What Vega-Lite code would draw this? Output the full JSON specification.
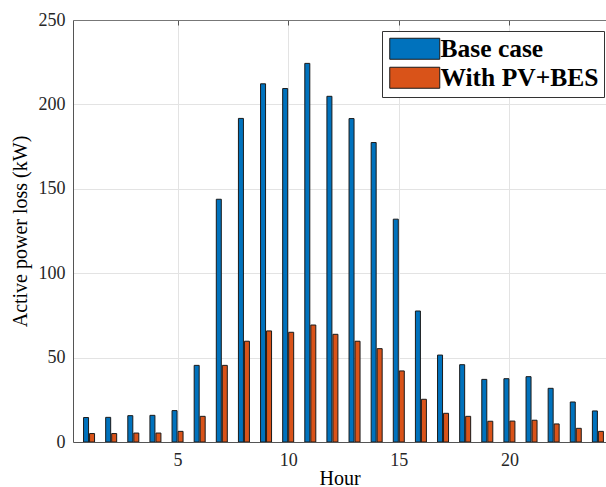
{
  "$schema": "https://vega.github.io/schema/vega-lite/v6.json",
  "autosize": "none",
  "padding": {"left": 73, "top": 20, "right": 0, "bottom": 45},
  "width": 533,
  "height": 422,
  "background": "white",
  "config": {
    "font": "Liberation Serif",
    "view": {"stroke": null},
    "axis": {
      "labelFont": "Liberation Serif",
      "titleFont": "Liberation Serif",
      "labelFontSize": 18,
      "titleFontSize": 20,
      "titleFontWeight": "normal",
      "labelColor": "#262626",
      "titleColor": "#000000",
      "domainColor": "#555555",
      "gridColor": "#e3e3e3",
      "ticks": false
    }
  },
  "resolve": {"axis": {"x": "independent"}},
  "data": {
    "values": [
      {"hour": 1, "series": "Base case", "loss": 14.5},
      {"hour": 2, "series": "Base case", "loss": 14.6},
      {"hour": 3, "series": "Base case", "loss": 15.6},
      {"hour": 4, "series": "Base case", "loss": 15.8},
      {"hour": 5, "series": "Base case", "loss": 18.6},
      {"hour": 6, "series": "Base case", "loss": 45.4},
      {"hour": 7, "series": "Base case", "loss": 143.8},
      {"hour": 8, "series": "Base case", "loss": 191.7},
      {"hour": 9, "series": "Base case", "loss": 212.2},
      {"hour": 10, "series": "Base case", "loss": 209.4},
      {"hour": 11, "series": "Base case", "loss": 224.3},
      {"hour": 12, "series": "Base case", "loss": 204.8},
      {"hour": 13, "series": "Base case", "loss": 191.6},
      {"hour": 14, "series": "Base case", "loss": 177.4},
      {"hour": 15, "series": "Base case", "loss": 132.0},
      {"hour": 16, "series": "Base case", "loss": 77.6},
      {"hour": 17, "series": "Base case", "loss": 51.5},
      {"hour": 18, "series": "Base case", "loss": 45.8},
      {"hour": 19, "series": "Base case", "loss": 37.1},
      {"hour": 20, "series": "Base case", "loss": 37.5},
      {"hour": 21, "series": "Base case", "loss": 38.7},
      {"hour": 22, "series": "Base case", "loss": 31.8},
      {"hour": 23, "series": "Base case", "loss": 23.7},
      {"hour": 24, "series": "Base case", "loss": 18.4},
      {"hour": 1, "series": "With PV+BES", "loss": 5.0},
      {"hour": 2, "series": "With PV+BES", "loss": 5.0},
      {"hour": 3, "series": "With PV+BES", "loss": 5.3},
      {"hour": 4, "series": "With PV+BES", "loss": 5.3},
      {"hour": 5, "series": "With PV+BES", "loss": 6.3},
      {"hour": 6, "series": "With PV+BES", "loss": 15.2},
      {"hour": 7, "series": "With PV+BES", "loss": 45.4},
      {"hour": 8, "series": "With PV+BES", "loss": 59.7},
      {"hour": 9, "series": "With PV+BES", "loss": 65.8},
      {"hour": 10, "series": "With PV+BES", "loss": 65.0},
      {"hour": 11, "series": "With PV+BES", "loss": 69.3},
      {"hour": 12, "series": "With PV+BES", "loss": 63.8},
      {"hour": 13, "series": "With PV+BES", "loss": 59.7},
      {"hour": 14, "series": "With PV+BES", "loss": 55.3},
      {"hour": 15, "series": "With PV+BES", "loss": 42.1},
      {"hour": 16, "series": "With PV+BES", "loss": 25.3},
      {"hour": 17, "series": "With PV+BES", "loss": 17.0},
      {"hour": 18, "series": "With PV+BES", "loss": 15.2},
      {"hour": 19, "series": "With PV+BES", "loss": 12.3},
      {"hour": 20, "series": "With PV+BES", "loss": 12.4},
      {"hour": 21, "series": "With PV+BES", "loss": 12.9},
      {"hour": 22, "series": "With PV+BES", "loss": 10.7},
      {"hour": 23, "series": "With PV+BES", "loss": 8.1},
      {"hour": 24, "series": "With PV+BES", "loss": 6.3}
    ]
  },
  "encoding": {
    "y": {
      "field": "loss",
      "type": "quantitative",
      "scale": {"domain": [0, 250], "nice": false},
      "axis": {
        "values": [0, 50, 100, 150, 200, 250],
        "title": "Active power loss (kW)",
        "labelPadding": 8,
        "titleX": -43,
        "titleY": 211
      }
    },
    "color": {
      "field": "series",
      "type": "nominal",
      "scale": {"domain": ["Base case", "With PV+BES"], "range": ["#0072BD", "#D95319"]},
      "legend": {
        "title": null,
        "orient": "none",
        "legendX": 309,
        "legendY": 11,
        "padding": 5,
        "fillColor": "white",
        "strokeColor": "#333333",
        "cornerRadius": 0,
        "symbolType": "M-2.5,-1.05H2.5V1.05H-2.5Z",
        "symbolSize": 400,
        "symbolOffset": 15,
        "symbolStrokeColor": "#1a1a1a",
        "symbolStrokeWidth": 1,
        "symbolOpacity": 1,
        "labelOffset": 13,
        "labelFont": "Liberation Serif",
        "labelFontSize": 25.5,
        "labelFontWeight": "bold",
        "labelColor": "#000000",
        "rowPadding": 2
      }
    }
  },
  "layer": [
    {
      "transform": [{"filter": "datum.series === 'Base case'"}],
      "mark": {"type": "bar", "width": 5, "xOffset": -3, "stroke": "#1a1a1a", "strokeWidth": 1, "clip": true, "opacity": 1},
      "encoding": {
        "x": {
          "field": "hour",
          "type": "quantitative",
          "scale": {"domain": [0.5, 24.14], "nice": false, "zero": false},
          "axis": {
            "orient": "bottom",
            "values": [5, 10, 15, 20],
            "title": "Hour",
            "labelPadding": 9,
            "titleY": 42,
            "titleBaseline": "alphabetic"
          }
        }
      }
    },
    {
      "transform": [{"filter": "datum.series === 'With PV+BES'"}],
      "mark": {"type": "bar", "width": 5, "xOffset": 3, "stroke": "#1a1a1a", "strokeWidth": 1, "clip": true, "opacity": 1},
      "encoding": {
        "x": {
          "field": "hour",
          "type": "quantitative",
          "axis": {
            "orient": "top",
            "values": [5, 10, 15, 20],
            "labels": false,
            "grid": false,
            "title": null,
            "ticks": true,
            "tickSize": -5,
            "tickColor": "#555555",
            "domainColor": "#777777"
          }
        }
      }
    }
  ]
}
